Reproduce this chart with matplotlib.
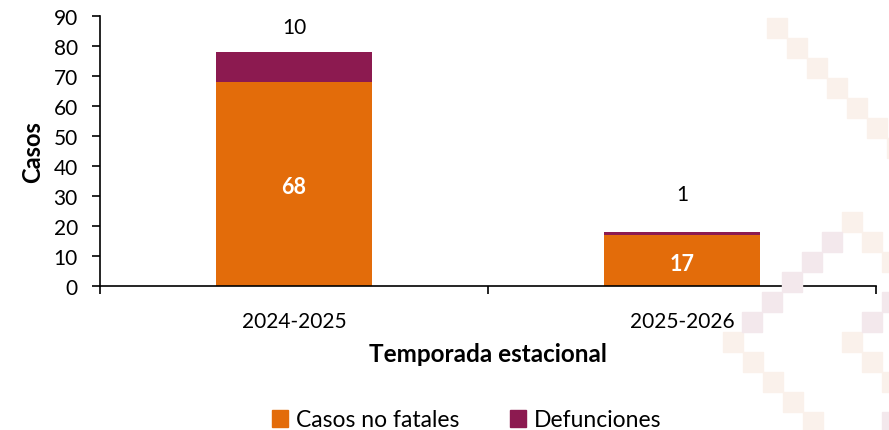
import matplotlib.pyplot as plt
from matplotlib.patches import Rectangle, Patch
import numpy as np

plt.rcParams['font.family'] = ['Lato', 'DejaVu Sans']

temporadas = ['2024-2025', '2025-2026']
no_fatales = [68, 17]
defunciones = [10, 1]

orange = '#E36C0A'
purple = '#8C1A50'

# faint background squares (decoration, pixel coords from top-left)
beige_sq = [(767, 19), (787, 39), (807, 59), (827, 79), (847, 99), (867, 119), (887, 139),
            (842, 213), (862, 233), (882, 253), (723, 333), (743, 353), (763, 373),
            (783, 393), (803, 413), (842, 333), (862, 353), (882, 373)]
pink_sq = [(822, 233), (802, 253), (782, 273), (762, 293), (742, 313),
           (882, 293), (862, 313), (882, 413)]

W, H = 889, 431
fig = plt.figure(figsize=(W / 100, H / 100), dpi=100)
for pts, col in ((beige_sq, '#FAF1EB'), (pink_sq, '#F3E8EC')):
    for x0, y0 in pts:
        fig.patches.append(Rectangle((x0 / W, 1 - (y0 + 20) / H), 20 / W, 20 / H,
                                     transform=fig.transFigure, color=col, zorder=0))

ax = fig.add_axes([100 / W, 1 - 287 / H, 776 / W, 270 / H])
ax.patch.set_alpha(0)

x = np.arange(len(temporadas))
ax.bar(x, no_fatales, width=0.4, color=orange, label='Casos no fatales', zorder=2)
ax.bar(x, defunciones, width=0.4, bottom=no_fatales, color=purple, label='Defunciones', zorder=2)

for i in range(len(x)):
    ax.text(x[i], no_fatales[i] / 2 - 1, str(no_fatales[i]), ha='center', va='center',
            color='white', fontsize=15.5, fontweight='bold')
label_off = [8.3, 12.7]
for i in range(len(x)):
    ax.text(x[i], no_fatales[i] + defunciones[i] + label_off[i], str(defunciones[i]),
            ha='center', va='center', color='black', fontsize=15)

ax.set_xlim(-0.5, 1.5)
ax.set_ylim(0, 90)
ax.set_yticks(range(0, 91, 10))
ax.set_xticks([-0.5, 0.5, 1.5])
ax.set_xticklabels([])
ax.set_xticks(x, minor=True)
ax.set_xticklabels(temporadas, minor=True)
ax.tick_params(axis='x', which='minor', length=0, pad=18, labelsize=15)
ax.tick_params(axis='x', which='major', length=6, width=1.2, direction='out')
ax.tick_params(axis='y', length=6, width=1.2, direction='out', labelsize=15, pad=10)

for s in ['top', 'right']:
    ax.spines[s].set_visible(False)
for s in ['left', 'bottom']:
    ax.spines[s].set_linewidth(1.2)

ax.set_ylabel('Casos', fontsize=17, fontweight='bold', labelpad=7)
ax.set_xlabel('Temporada estacional', fontsize=17.5, fontweight='bold', labelpad=8)

handles = [Patch(color=orange, label='Casos no fatales'), Patch(color=purple, label='Defunciones')]
fig.legend(handles=handles, loc='center', bbox_to_anchor=(467 / W, 1 - 421 / H), ncol=2,
           frameon=False, fontsize=16.5, handlelength=0.7, handleheight=0.7,
           handletextpad=0.35, columnspacing=2.2)

fig.savefig('out.png', dpi=100)
